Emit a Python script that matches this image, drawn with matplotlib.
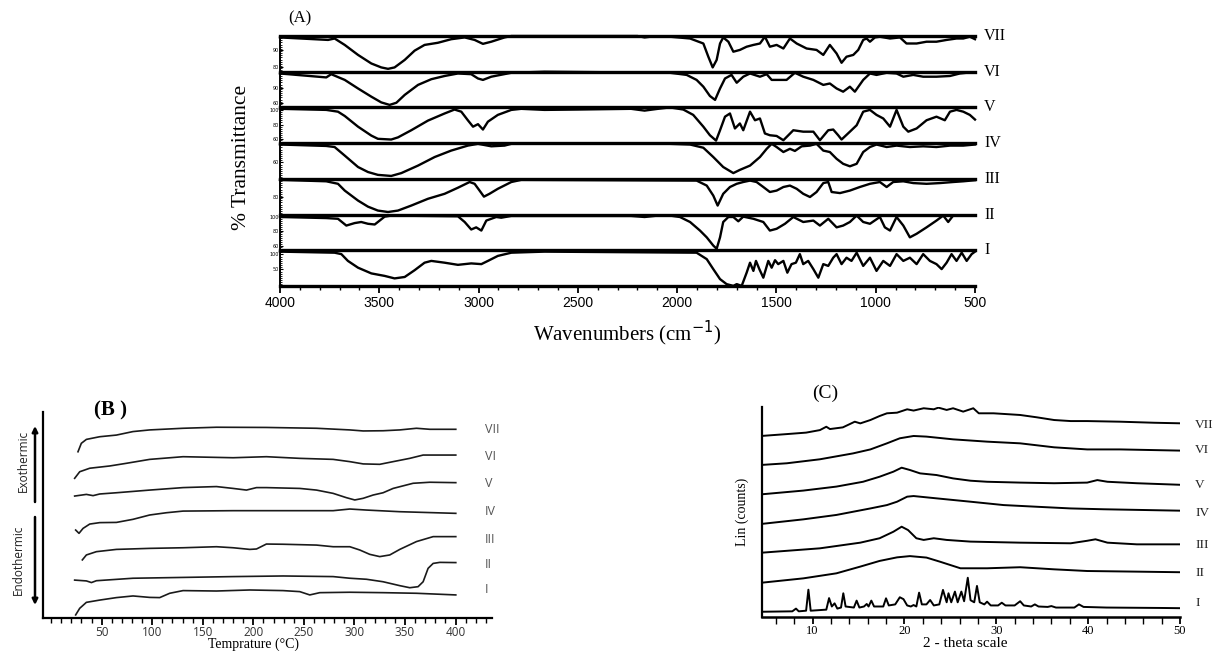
import numpy as np
import matplotlib.pyplot as plt
from matplotlib.ticker import MultipleLocator

W, H = 1219, 651
SERIF = 'Liberation Serif'
SANS = 'Liberation Sans'

labels = ['VII', 'VI', 'V', 'IV', 'III', 'II', 'I']

# ---- (A) FTIR: (wavenumber cm-1, depth below the 100 % line, fraction of strip)
ir_VII = [(4000, .04), (3758, .11), (3725, .07), (3674, .25), (3607, .53), (3540, .77), (3490, .88),
          (3456, .92), (3423, .88), (3372, .67), (3322, .41), (3272, .25), (3205, .19), (3138, .09),
          (3070, .04), (3020, .11), (2978, .22), (2936, .16), (2869, .04), (2835, 0), (2200, 0),
          (2164, .04), (2120, .01), (2036, .02), (1935, .07), (1868, .21), (1843, .58), (1821, .88),
          (1801, .67), (1784, .21), (1768, .04), (1742, .16), (1717, .44), (1684, .39), (1650, .30),
          (1616, .25), (1583, .21), (1558, .02), (1533, .30), (1499, .25), (1465, .35), (1432, .07),
          (1398, .21), (1348, .35), (1298, .39), (1264, .53), (1231, .25), (1197, .49), (1172, .75),
          (1147, .58), (1113, .53), (1088, .39), (1063, .11), (1046, .07), (1029, .16), (1004, .04),
          (979, .02), (928, .07), (878, .04), (845, .21), (794, .21), (744, .16), (694, .16),
          (643, .11), (593, .07), (559, .07), (526, .02), (500, .09)]
ir_VI = [(4000, .05), (3767, .16), (3742, .07), (3674, .23), (3607, .47), (3540, .70), (3490, .86),
         (3448, .93), (3414, .87), (3372, .65), (3305, .37), (3238, .21), (3171, .12), (3104, .05),
         (3037, .07), (3003, .19), (2978, .23), (2936, .14), (2835, .03), (2668, 0), (2036, .03),
         (1952, .09), (1902, .23), (1868, .42), (1835, .68), (1809, .79), (1784, .47), (1759, .19),
         (1726, .09), (1700, .31), (1667, .14), (1633, .05), (1583, .14), (1549, .07), (1524, .23),
         (1482, .23), (1449, .23), (1407, .03), (1365, .14), (1314, .23), (1264, .37), (1231, .33),
         (1197, .47), (1164, .56), (1130, .42), (1105, .56), (1063, .23), (1029, .05), (996, .09),
         (945, .03), (895, .05), (861, .14), (811, .09), (761, .14), (694, .14), (626, .12),
         (576, .05), (526, .02), (500, .02)]
ir_V = [(4000, .04), (3767, .07), (3708, .12), (3674, .24), (3607, .54), (3540, .79), (3507, .88),
        (3440, .90), (3406, .84), (3339, .64), (3255, .37), (3171, .17), (3121, .06), (3087, .12),
        (3054, .36), (3028, .54), (3003, .47), (2978, .62), (2953, .40), (2903, .21), (2835, .07),
        (2785, .04), (2668, .07), (2500, .06), (2232, .04), (2164, .09), (2097, .04), (2036, 0),
        (1969, .06), (1919, .21), (1868, .54), (1835, .78), (1804, .93), (1784, .64), (1759, .26),
        (1734, .17), (1709, .59), (1684, .45), (1667, .64), (1633, .12), (1608, .36), (1583, .31),
        (1558, .73), (1533, .78), (1499, .80), (1465, .92), (1415, .64), (1365, .68), (1314, .68),
        (1281, .92), (1239, .64), (1214, .62), (1189, .78), (1172, .90), (1130, .68), (1096, .50),
        (1063, .12), (1029, .07), (996, .21), (962, .31), (928, .54), (895, .07), (861, .54),
        (836, .68), (794, .59), (744, .36), (694, .26), (652, .36), (626, .12), (593, .07),
        (559, .12), (526, .21), (500, .34)]
ir_IV = [(4000, .04), (3767, .08), (3725, .11), (3674, .35), (3607, .67), (3557, .81), (3507, .89),
         (3440, .92), (3389, .84), (3305, .63), (3221, .39), (3138, .21), (3054, .07), (3003, .02),
         (2936, .09), (2869, .07), (2835, .02), (2036, .02), (1935, .04), (1868, .13), (1818, .39),
         (1768, .67), (1717, .84), (1684, .75), (1633, .63), (1583, .39), (1549, .16), (1524, .02),
         (1499, .11), (1465, .25), (1432, .16), (1407, .22), (1373, .09), (1331, .07), (1298, .02),
         (1264, .21), (1231, .25), (1197, .44), (1164, .58), (1130, .65), (1096, .58), (1063, .25),
         (1029, .11), (996, .04), (945, .11), (895, .07), (828, .11), (761, .09), (694, .11),
         (626, .07), (559, .07), (500, .04)]
ir_III = [(4000, .03), (3767, .07), (3708, .14), (3674, .33), (3607, .61), (3557, .78), (3507, .89),
          (3456, .93), (3406, .89), (3339, .75), (3255, .56), (3171, .42), (3104, .25), (3045, .09),
          (3020, .14), (2995, .33), (2973, .50), (2945, .42), (2903, .28), (2853, .14), (2835, .09),
          (2785, .03), (1902, .05), (1851, .19), (1818, .47), (1796, .75), (1768, .42), (1734, .23),
          (1700, .14), (1667, .09), (1633, .05), (1600, .09), (1566, .23), (1533, .37), (1499, .33),
          (1465, .23), (1432, .19), (1398, .28), (1365, .42), (1331, .51), (1298, .37), (1264, .12),
          (1239, .09), (1222, .37), (1180, .40), (1130, .33), (1080, .23), (1029, .14), (979, .09),
          (945, .23), (912, .09), (861, .07), (811, .12), (744, .14), (677, .12), (610, .09),
          (559, .07), (500, .04)]
ir_II = [(4000, .07), (3767, .10), (3708, .12), (3666, .31), (3624, .24), (3591, .21), (3557, .26),
         (3523, .28), (3498, .17), (3473, .06), (3440, .03), (3104, .05), (3070, .21), (3037, .42),
         (3012, .36), (2986, .45), (2961, .17), (2936, .12), (2911, .07), (2886, .09), (2835, .04),
         (2232, .04), (2164, .07), (2097, .03), (2036, .03), (1986, .07), (1935, .21), (1885, .45),
         (1851, .64), (1818, .87), (1801, .96), (1784, .64), (1768, .21), (1742, .07), (1717, .07),
         (1692, .19), (1667, .06), (1616, .12), (1566, .21), (1533, .45), (1499, .40), (1457, .26),
         (1415, .07), (1365, .21), (1314, .17), (1281, .31), (1239, .12), (1197, .36), (1164, .31),
         (1130, .21), (1096, .03), (1063, .21), (1029, .26), (979, .07), (954, .36), (928, .45),
         (895, .07), (861, .31), (828, .64), (794, .54), (744, .36), (694, .17), (660, .03),
         (635, .21), (610, .03), (500, .03)]
ir_I = [(4000, .04), (3725, .07), (3691, .11), (3658, .30), (3607, .49), (3540, .65), (3473, .72),
        (3423, .79), (3372, .75), (3322, .56), (3272, .35), (3238, .30), (3171, .35), (3104, .41),
        (3037, .37), (2986, .39), (2953, .30), (2903, .16), (2835, .07), (2668, .04), (1902, .07),
        (1851, .25), (1818, .53), (1784, .81), (1751, .95), (1717, 1.0), (1700, .95), (1675, 1.0),
        (1650, .63), (1633, .35), (1616, .58), (1603, .30), (1586, .53), (1566, .77), (1541, .30),
        (1524, .49), (1507, .28), (1491, .39), (1465, .30), (1445, .63), (1424, .39), (1402, .35),
        (1382, .11), (1365, .39), (1340, .30), (1314, .53), (1289, .77), (1264, .39), (1239, .44),
        (1214, .21), (1197, .11), (1172, .39), (1147, .21), (1122, .30), (1096, .07), (1063, .44),
        (1029, .21), (996, .58), (962, .30), (928, .44), (895, .11), (861, .30), (828, .21),
        (794, .39), (761, .11), (727, .30), (694, .39), (668, .53), (643, .35), (618, .11),
        (593, .30), (567, .07), (542, .30), (517, .11), (500, .04)]
ir_traces = [ir_VII, ir_VI, ir_V, ir_IV, ir_III, ir_II, ir_I]
ir_tick_pos = [[.39, .87], [.46, .88], [.08, .49, .89], [.54], [.52], [.08, .45, .87], [.10, .52]]
ir_tick_lab = [['90', '80'], ['90', '60'], ['100', '80', '60'], ['60'], ['80'],
               ['100', '80', '60'], ['100', '50']]

# ---- (B) DSC: (temperature degC, heat flow a.u.)
dsc_VII = [(26.6, .807), (29.9, .848), (34.9, .867), (48.1, .880), (64.6, .888), (81.0, .905),
           (97.5, .913), (130.5, .921), (163.5, .926), (212.9, .925), (262.4, .921), (295.4, .913),
           (308.6, .908), (328.3, .909), (344.8, .913), (361.3, .921), (374.5, .916), (400.2, .916)]
dsc_VI = [(23.3, .678), (28.3, .710), (38.2, .727), (58.0, .738), (74.5, .751), (97.5, .770),
          (130.5, .783), (180.0, .778), (212.9, .783), (245.9, .775), (278.9, .770), (295.4, .759),
          (308.6, .748), (325.0, .746), (338.2, .759), (354.7, .775), (367.9, .791), (400.2, .791)]
dsc_V = [(23.3, .592), (34.9, .600), (41.5, .594), (48.1, .602), (64.6, .608), (97.5, .621),
         (130.5, .633), (163.5, .638), (180.0, .629), (193.2, .621), (203.1, .633), (212.9, .633),
         (245.9, .629), (262.4, .621), (278.9, .605), (292.1, .584), (300.3, .573), (308.6, .581),
         (318.5, .597), (328.3, .608), (338.2, .629), (358.0, .654), (374.5, .659), (400.2, .657)]
dsc_IV = [(24.3, .427), (27.6, .411), (31.6, .435), (38.2, .456), (48.1, .463), (64.6, .464),
          (81.0, .479), (97.5, .500), (114.0, .511), (130.5, .519), (180.0, .521), (245.9, .521),
          (278.9, .521), (295.4, .529), (311.9, .524), (344.8, .516), (400.2, .508)]
dsc_III = [(30.9, .282), (34.9, .306), (44.8, .322), (64.6, .333), (97.5, .338), (130.5, .341),
           (163.5, .346), (180.0, .341), (196.5, .333), (203.1, .335), (212.9, .359), (229.4, .358),
           (262.4, .354), (278.9, .346), (295.4, .346), (305.3, .330), (315.1, .309), (325.0, .298),
           (334.9, .306), (344.8, .333), (361.3, .371), (377.8, .395), (400.2, .395)]
dsc_II = [(23.3, .184), (34.9, .180), (39.9, .172), (44.8, .181), (81.0, .193), (130.5, .197),
          (180.0, .201), (229.4, .204), (278.9, .201), (295.4, .193), (311.9, .188), (328.3, .176),
          (344.8, .157), (354.7, .147), (362.9, .152), (367.9, .176), (372.8, .241), (377.8, .265),
          (384.4, .270), (400.2, .269)]
dsc_I = [(24.3, .015), (28.3, .047), (34.9, .076), (48.1, .087), (64.6, .099), (81.0, .107),
         (97.5, .100), (107.4, .099), (117.3, .120), (130.5, .133), (163.5, .131), (196.5, .136),
         (229.4, .133), (245.9, .128), (255.8, .112), (265.7, .123), (295.4, .125), (328.3, .123),
         (361.3, .120), (400.2, .112)]
dsc_traces = [dsc_VII, dsc_VI, dsc_V, dsc_IV, dsc_III, dsc_II, dsc_I]
dsc_label_y = [.917, .786, .655, .515, .379, .262, .136]

# ---- (C) XRD: (2-theta, intensity a.u.)
xrd_VII = [(4.4, .862), (7.2, .871), (9.3, .878), (10.8, .890), (11.5, .906), (11.9, .895),
           (13.3, .903), (14.6, .930), (15.2, .922), (16.3, .938), (17.3, .957), (18.1, .970),
           (19.2, .973), (20.3, .989), (21.0, .983), (22.1, .994), (23.2, .989), (23.7, .997),
           (24.6, .986), (25.3, .994), (26.4, .978), (27.5, .994), (28.1, .970), (29.7, .970),
           (30.8, .967), (32.6, .962), (34.4, .951), (36.3, .938), (38.1, .933), (39.9, .933),
           (43.5, .930), (47.2, .925), (50.4, .922)]
xrd_VI = [(4.4, .724), (7.2, .732), (10.8, .751), (14.4, .779), (16.3, .798), (18.1, .827),
          (19.5, .851), (21.0, .862), (22.4, .859), (25.3, .846), (29.0, .835), (32.6, .827),
          (36.3, .808), (39.9, .798), (43.5, .798), (50.4, .792)]
xrd_V = [(4.4, .584), (9.0, .602), (12.6, .621), (15.5, .644), (17.3, .668), (18.8, .692),
         (19.7, .711), (20.6, .700), (21.7, .684), (23.5, .676), (25.3, .660), (27.2, .649),
         (29.0, .644), (32.6, .640), (36.3, .637), (39.9, .640), (41.0, .652), (42.1, .644),
         (45.3, .637), (50.4, .629)]
xrd_IV = [(4.4, .443), (9.0, .465), (12.6, .486), (16.3, .517), (18.1, .533), (19.2, .549),
          (20.3, .573), (21.0, .576), (23.5, .565), (27.2, .549), (30.8, .533), (34.4, .525),
          (38.1, .517), (41.7, .513), (50.4, .506)]
xrd_III = [(4.4, .306), (10.8, .327), (15.2, .354), (17.3, .375), (18.8, .406), (19.7, .430),
           (20.4, .414), (21.3, .375), (22.1, .367), (23.2, .375), (24.6, .367), (27.2, .359),
           (32.6, .354), (38.1, .351), (39.9, .363), (40.8, .370), (42.1, .354), (45.3, .346),
           (50.4, .346)]
xrd_II = [(4.4, .163), (9.0, .184), (12.6, .208), (15.2, .240), (17.3, .267), (19.2, .284),
          (20.6, .290), (22.4, .283), (23.9, .263), (26.1, .232), (29.0, .232), (32.6, .237),
          (36.3, .227), (39.9, .219), (45.3, .216), (50.4, .213)]
xrd_I = [(4.5, .025), (7.8, .027), (8.2, .040), (8.5, .027), (9.3, .030), (9.55, .130), (9.8, .030),
         (11.5, .035), (11.8, .090), (12.1, .050), (12.4, .065), (12.7, .040), (13.1, .045),
         (13.35, .113), (13.6, .050), (14.5, .045), (14.8, .078), (15.1, .045), (15.6, .050),
         (15.9, .062), (16.1, .050), (16.4, .078), (16.7, .050), (17.7, .050), (18.0, .089),
         (18.3, .055), (19.0, .060), (19.5, .094), (19.9, .085), (20.3, .055), (20.7, .050),
         (21.0, .057), (21.3, .050), (21.6, .116), (21.9, .060), (22.4, .060), (22.8, .081),
         (23.2, .055), (23.8, .060), (24.2, .129), (24.6, .070), (24.8, .113), (25.1, .070),
         (25.5, .121), (25.8, .070), (26.2, .121), (26.5, .075), (26.9, .187), (27.2, .080),
         (27.6, .070), (27.9, .148), (28.2, .070), (28.7, .060), (29.0, .073), (29.4, .055),
         (30.2, .055), (30.6, .068), (31.0, .055), (32.0, .055), (32.6, .075), (33.0, .055),
         (33.8, .050), (34.2, .060), (34.6, .050), (35.6, .048), (36.0, .052), (36.5, .045),
         (38.5, .045), (39.0, .060), (39.5, .048), (42.0, .045), (45.0, .044), (48.0, .043),
         (50.0, .042)]
xrd_traces = [xrd_VII, xrd_VI, xrd_V, xrd_IV, xrd_III, xrd_II, xrd_I]
xrd_label_y = [.914, .795, .629, .495, .343, .210, .067]


def rect(x0, y0, x1, y1):
    # pixel box (top-left origin) -> figure fraction
    return [x0 / W, 1 - y1 / H, (x1 - x0) / W, (y1 - y0) / H]


fig = plt.figure(figsize=(W / 100, H / 100), dpi=100)

# ---------------- panel A ----------------
strip_h = 35.7
for i, (name, trace) in enumerate(zip(labels, ir_traces)):
    top = 36 + strip_h * i
    ax = fig.add_axes(rect(280, top, 975, top + strip_h))
    wn, dep = np.array(trace).T
    ax.plot(wn, dep, color='black', lw=1.7, clip_on=False, solid_joinstyle='round')
    ax.set_xlim(4000, 500)
    ax.set_ylim(1.0, 0.0)
    for s in ['right', 'bottom']:
        ax.spines[s].set_visible(False)
    ax.spines['top'].set_linewidth(2.4)
    ax.spines['left'].set_linewidth(1.4)
    ax.set_yticks(ir_tick_pos[i], ir_tick_lab[i])
    ax.yaxis.set_minor_locator(MultipleLocator(0.06))
    ax.tick_params(axis='y', which='major', labelsize=3.5, length=2.5, width=0.8, pad=0.5, direction='in')
    ax.tick_params(axis='y', which='minor', length=1.6, width=0.6, direction='in')
    ax.text(1.013, 1.0, name, transform=ax.transAxes, ha='left', va='center',
            family=SERIF, fontsize=11.5)
    if i == len(labels) - 1:
        ax.spines['bottom'].set_visible(True)
        ax.spines['bottom'].set_linewidth(2.4)
        ax.set_xticks(range(4000, 499, -500))
        ax.xaxis.set_minor_locator(MultipleLocator(100))
        ax.tick_params(axis='x', which='major', length=5, width=1.3, labelsize=10, pad=2)
        ax.tick_params(axis='x', which='minor', length=3, width=1.0)
        for t in ax.get_xticklabels():
            t.set_family(SANS)
    else:
        ax.set_xticks([])

fig.text(300 / W, 1 - 18 / H, '(A)', family=SERIF, fontsize=12, ha='center', va='center')
fig.text(242 / W, 1 - 157 / H, '% Transmittance', family=SERIF, fontsize=15.5,
         rotation=90, ha='center', va='center')
fig.text(627 / W, 1 - 333 / H, 'Wavenumbers (cm$^{-1}$)', family=SERIF, fontsize=15,
         ha='center', va='center')

# ---------------- panel B ----------------
axb = fig.add_axes(rect(43, 412, 492, 618))
for tr in dsc_traces:
    t, h = np.array(tr).T
    axb.plot(t, h, color='#1a1a1a', lw=1.2)
axb.set_xlim(-8, 436)
axb.set_ylim(0, 1)
axb.spines['top'].set_visible(False)
axb.spines['right'].set_visible(False)
axb.spines['left'].set_linewidth(1.6)
axb.spines['bottom'].set_linewidth(1.6)
axb.set_yticks([])
axb.set_xticks(range(50, 401, 50))
axb.xaxis.set_minor_locator(MultipleLocator(10))
axb.tick_params(axis='x', which='major', length=5, width=1.3, labelsize=8.5, pad=0.5, labelcolor='#333')
axb.tick_params(axis='x', which='minor', length=3.5, width=1.0)
for t in axb.get_xticklabels():
    t.set_family('Open Sans')
for name, y in zip(labels, dsc_label_y):
    axb.text(0.984, y, name, transform=axb.transAxes, ha='left', va='center',
             family='Open Sans', fontsize=9, color='#555', clip_on=False)
fig.text(111 / W, 1 - 410 / H, '(B )', family=SERIF, fontsize=15, weight='bold',
         ha='center', va='center')
fig.text(253 / W, 1 - 651 / H, 'Temprature (°C)', family=SERIF, fontsize=10,
         ha='center', va='bottom')
arrow = dict(arrowstyle='-|>', color='black', lw=1.8, mutation_scale=8, shrinkA=0, shrinkB=0)
fig.add_artist(plt.Annotation('', xy=(35 / W, 1 - 426 / H), xytext=(35 / W, 1 - 502 / H),
                              xycoords='figure fraction', arrowprops=arrow))
fig.add_artist(plt.Annotation('', xy=(35 / W, 1 - 605 / H), xytext=(35 / W, 1 - 517 / H),
                              xycoords='figure fraction', arrowprops=arrow))
fig.text(23 / W, 1 - 461 / H, 'Exothermic', family='Open Sans', fontsize=8.5,
         rotation=90, ha='center', va='center', color='#222')
fig.text(18 / W, 1 - 560 / H, 'Endothermic', family='Open Sans', fontsize=8.5,
         rotation=90, ha='center', va='center', color='#222')

# ---------------- panel C ----------------
axc = fig.add_axes(rect(762, 407, 1180, 617))
for tr in xrd_traces:
    th, h = np.array(tr).T
    axc.plot(th, h, color='black', lw=1.4)
axc.set_xlim(4.5, 50)
axc.set_ylim(0, 1)
axc.spines['top'].set_visible(False)
axc.spines['right'].set_visible(False)
axc.spines['left'].set_linewidth(1.6)
axc.spines['bottom'].set_linewidth(1.8)
axc.set_yticks([])
axc.set_xticks(range(10, 51, 10))
axc.xaxis.set_minor_locator(MultipleLocator(2))
axc.tick_params(axis='x', which='major', length=5, width=1.3, labelsize=9, pad=0.5)
axc.tick_params(axis='x', which='minor', length=5, width=1.0)
for t in axc.get_xticklabels():
    t.set_family(SERIF)
for name, y in zip(labels, xrd_label_y):
    axc.text(1.036, y, name, transform=axc.transAxes, ha='left', va='center',
             family=SERIF, fontsize=9.5, color='#222', clip_on=False)
fig.text(825 / W, 1 - 393 / H, '(C)', family=SERIF, fontsize=14, ha='center', va='center')
fig.text(965 / W, 1 - 650 / H, '2 - theta scale', family=SERIF, fontsize=11,
         ha='center', va='bottom')
fig.text(742 / W, 1 - 512 / H, 'Lin (counts)', family=SERIF, fontsize=10,
         rotation=90, ha='center', va='center')

fig.savefig('out.png', dpi=100)
